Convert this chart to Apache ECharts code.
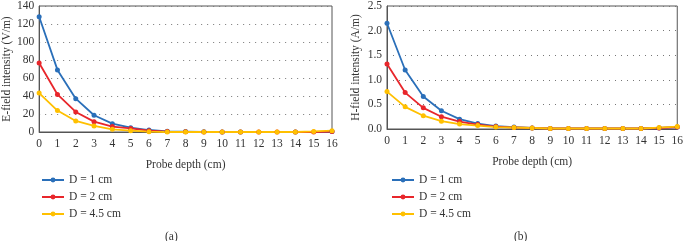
<!DOCTYPE html>
<html>
<head>
<meta charset="utf-8">
<script src="https://cdn.jsdelivr.net/npm/echarts@6/dist/echarts.min.js"></script>
<style>
  html, body { margin: 0; padding: 0; background: #fff; }
  #chart { width: 686px; height: 241px; }
</style>
</head>
<body>
<div id="chart"></div>
<script>
// probe depth (cm)
const depths = ['0','1','2','3','4','5','6','7','8','9','10','11','12','13','14','15','16'];
const seriesNames = ['D = 1 cm', 'D = 2 cm', 'D = 4.5 cm'];

// E-field intensity (V/m)
const eD1 = [128, 69, 37, 18.6, 9.3, 4.8, 2.2, 0.8, 0.5, 0.2, 0.1, 0, -0.8, -0.8, 0, -0.5, 0.5];
const eD2 = [76.7, 41.7, 22.3, 11.5, 6, 4, 1.5, 0.5, 0.2, 0.1, 0, 0, 0, 0, 0, 0, 0.5];
const eD45 = [43.2, 23.8, 12.3, 6.7, 3, 1.5, 0.4, 0, 0, 0, 0, 0, 0, 0, 0, 0.6, 1.5];

// H-field intensity (A/m)
const hD1 = [2.15, 1.20, 0.66, 0.37, 0.20, 0.11, 0.06, 0.04, 0.02, 0.01, 0.01, 0.01, 0.01, 0.01, 0.01, 0.02, 0.04];
const hD2 = [1.32, 0.74, 0.43, 0.25, 0.15, 0.09, 0.05, 0.03, 0.02, 0.01, 0.01, 0.01, 0.01, 0.01, 0.01, 0.02, 0.04];
const hD45 = [0.76, 0.45, 0.27, 0.16, 0.10, 0.07, 0.04, 0.03, 0.02, 0.01, 0.01, 0.01, 0.01, 0.01, 0.01, 0.03, 0.05];

const colors = ['#2a6fb9', '#e8262b', '#ffc000'];
const font = 'Liberation Serif';
const fontSize = 11.5;
const textColor = '#333';

const chart = echarts.init(document.getElementById('chart'));

function xAxisFor(gridIndex) {
  return {
    type: 'category', gridIndex, data: depths, boundaryGap: false,
    name: 'Probe depth (cm)', nameLocation: 'middle', nameGap: 27,
    nameTextStyle: { fontFamily: font, fontSize, color: textColor },
    axisLine: { lineStyle: { color: '#555' } },
    axisTick: { show: false },
    axisLabel: { fontFamily: font, fontSize, color: textColor, margin: 6, interval: 0 },
    splitLine: { show: false }
  };
}

function yAxisFor(gridIndex, name, max, interval, fmt) {
  return {
    type: 'value', gridIndex, min: 0, max, interval,
    name, nameLocation: 'middle', nameGap: 25,
    nameTextStyle: { fontFamily: font, fontSize, color: textColor },
    axisLine: { show: true, lineStyle: { color: '#555' } },
    axisTick: { show: false },
    axisLabel: { fontFamily: font, fontSize, color: textColor, margin: 5, formatter: fmt },
    splitLine: { lineStyle: { color: '#777', type: [1, 5] } }
  };
}

function lineSeries(i, xi, data) {
  return {
    type: 'line', name: seriesNames[i], xAxisIndex: xi, yAxisIndex: xi, data,
    symbol: 'circle', symbolSize: 5, showSymbol: true,
    itemStyle: { color: colors[i] },
    lineStyle: { color: colors[i], width: 1.8 }
  };
}

function legendFor(left) {
  return {
    left, top: 169, orient: 'vertical', itemGap: 5, itemWidth: 22, itemHeight: 6,
    textStyle: { fontFamily: font, fontSize, color: textColor },
    data: seriesNames
  };
}

chart.setOption({
  animation: false,
  backgroundColor: '#fff',
  grid: [
    { left: 38, top: 6, width: 294, height: 126, show: true, borderColor: '#555', borderWidth: 1 },
    { left: 387, top: 4, width: 295, height: 125, show: true, borderColor: '#555', borderWidth: 1 }
  ],
  xAxis: [xAxisFor(0), xAxisFor(1)],
  yAxis: [
    yAxisFor(0, 'E-field intensity (V/m)', 140, 20, v => v),
    yAxisFor(1, 'H-field intensity (A/m)', 2.5, 0.5, v => v.toFixed(1))
  ],
  legend: [legendFor(36), legendFor(386)],
  title: [
    { text: '(a)', left: 160, top: 226, textStyle: { fontFamily: font, fontSize, fontWeight: 'normal', color: textColor } },
    { text: '(b)', left: 509, top: 226, textStyle: { fontFamily: font, fontSize, fontWeight: 'normal', color: textColor } }
  ],
  series: [
    lineSeries(0, 0, eD1), lineSeries(1, 0, eD2), lineSeries(2, 0, eD45),
    lineSeries(0, 1, hD1), lineSeries(1, 1, hD2), lineSeries(2, 1, hD45)
  ]
});
</script>
</body>
</html>
